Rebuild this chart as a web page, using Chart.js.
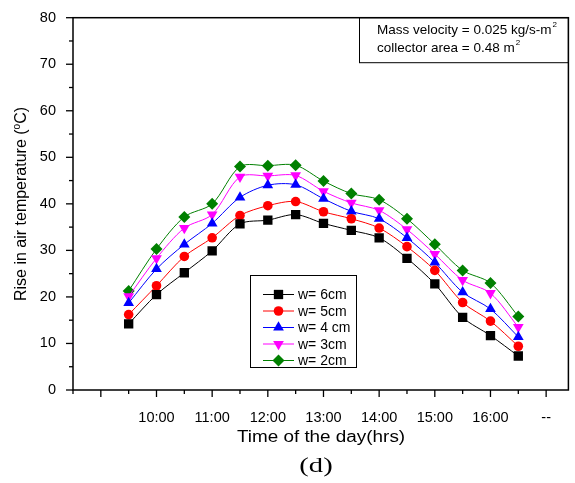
<!DOCTYPE html>
<html>
<head>
<meta charset="utf-8">
<script src="https://cdn.jsdelivr.net/npm/chart.js@4.4.0/dist/chart.umd.min.js"></script>
<style>
  html, body { margin: 0; padding: 0; background: #fff; }
  #wrap { width: 575px; height: 483px; }
</style>
</head>
<body>
<div id="wrap"><canvas id="grafico" width="575" height="483"></canvas></div>
<script>
// Datos (hora del día, subida de temperatura en °C)
const horas = [9.5, 10, 10.5, 11, 11.5, 12, 12.5, 13, 13.5, 14, 14.5, 15, 15.5, 16, 16.5];
const w6cm = [14.2, 20.5, 25.2, 29.9, 35.7, 36.5, 37.7, 35.8, 34.3, 32.7, 28.3, 22.8, 15.6, 11.7, 7.3];
const w5cm = [16.2, 22.4, 28.7, 32.7, 37.5, 39.6, 40.5, 38.3, 36.8, 34.8, 30.8, 25.7, 18.8, 14.8, 9.4];
const w4cm = [18.7, 26.0, 31.3, 35.8, 41.4, 44.0, 44.1, 41.1, 38.4, 36.8, 32.7, 27.4, 21.0, 17.4, 11.4];
const w3cm = [20.1, 28.3, 34.8, 37.7, 45.8, 46.0, 46.1, 42.7, 40.2, 38.6, 34.5, 29.2, 23.6, 20.8, 13.5];
const w2cm = [21.3, 30.3, 37.2, 40.0, 48.0, 48.2, 48.3, 44.9, 42.2, 40.9, 36.8, 31.3, 25.7, 23.0, 15.8];
const etiquetasX = { 10: '10:00', 11: '11:00', 12: '12:00', 13: '13:00', 14: '14:00', 15: '15:00', 16: '16:00', 17: '--' };
const etiquetasY = [0, 10, 20, 30, 40, 50, 60, 70, 80];

const series = [
  { label: 'w= 6cm', data: w6cm, color: '#000000', style: 'rect', radius: 6.6, rot: 0 },
  { label: 'w= 5cm', data: w5cm, color: '#ff0000', style: 'circle', radius: 4.8, rot: 0 },
  { label: 'w= 4 cm', data: w4cm, color: '#0000ff', style: 'triangle', radius: 6.2, rot: 0 },
  { label: 'w= 3cm', data: w3cm, color: '#ff00ff', style: 'triangle', radius: 6.2, rot: 180 },
  { label: 'w= 2cm', data: w2cm, color: '#008000', style: 'rectRot', radius: 6, rot: 0 }
];

const fuente = '"Liberation Sans", Arial, sans-serif';

// texto estirado en horizontal, como en la figura original
function texto(ctx, t, x, y, escala) {
  ctx.save();
  ctx.translate(x, y);
  ctx.scale(escala, 1);
  ctx.fillText(t, 0, 0);
  ctx.restore();
}

// Marco, marcas de ejes, leyenda y textos
const extras = {
  id: 'extras',
  afterDraw(chart) {
    const ctx = chart.ctx;
    const a = chart.chartArea;
    const sx = chart.scales.x, sy = chart.scales.y;
    ctx.save();
    ctx.strokeStyle = '#000';
    ctx.lineWidth = 1.5;
    ctx.strokeRect(a.left, a.top, a.right - a.left, a.bottom - a.top);

    // marcas del eje x
    ctx.lineWidth = 1.3;
    for (let h = 8.5; h <= 17.01; h += 0.5) {
      const px = sx.getPixelForValue(h);
      const len = Number.isInteger(h) ? 7 : 4;
      ctx.beginPath();
      ctx.moveTo(px, a.bottom);
      ctx.lineTo(px, a.bottom + len);
      ctx.stroke();
    }
    // marcas del eje y
    for (let v = 0; v <= 80; v += 5) {
      const py = sy.getPixelForValue(v);
      const len = v % 10 === 0 ? 7 : 4;
      ctx.beginPath();
      ctx.moveTo(a.left, py);
      ctx.lineTo(a.left - len, py);
      ctx.stroke();
    }

    // títulos
    ctx.fillStyle = '#000';
    ctx.font = '16px ' + fuente;
    ctx.textAlign = 'center';
    ctx.textBaseline = 'middle';
    texto(ctx, 'Time of the day(hrs)', 321, 438, 1.18);

    ctx.save();
    ctx.translate(22, 204);
    ctx.rotate(-Math.PI / 2);
    ctx.font = '16px ' + fuente;
    ctx.textAlign = 'left';
    const t1 = 'Rise in air temperature (';
    const w1 = ctx.measureText(t1).width;
    ctx.font = '10px ' + fuente;
    const wo = ctx.measureText('o').width;
    ctx.font = '16px ' + fuente;
    const w2 = ctx.measureText('C)').width;
    const x0 = -(w1 + wo + w2) / 2;
    ctx.fillText(t1, x0, 0);
    ctx.font = '10px ' + fuente;
    ctx.fillText('o', x0 + w1, -5);
    ctx.font = '16px ' + fuente;
    ctx.fillText('C)', x0 + w1 + wo, 0);
    ctx.restore();

    ctx.font = '22px "Liberation Serif", "Times New Roman", serif';
    ctx.textAlign = 'center';
    texto(ctx, '(d)', 316, 466, 1.3);

    // cuadro de condiciones
    ctx.lineWidth = 1;
    ctx.strokeRect(359.5, a.top, a.right - 359.5, 45);
    ctx.textAlign = 'left';
    ctx.font = '13.5px ' + fuente;
    ctx.fillText('Mass velocity = 0.025 kg/s-m', 377, 30);
    let w = ctx.measureText('Mass velocity = 0.025 kg/s-m').width;
    ctx.font = '8px ' + fuente;
    ctx.fillText('2', 377 + w + 1, 25);
    ctx.font = '13.5px ' + fuente;
    ctx.fillText('collector area = 0.48 m', 377, 48);
    w = ctx.measureText('collector area = 0.48 m').width;
    ctx.font = '8px ' + fuente;
    ctx.fillText('2', 377 + w + 1, 43);

    // leyenda
    ctx.lineWidth = 1;
    ctx.strokeRect(250.5, 275.5, 106, 92);
    chart.data.datasets.forEach((ds, i) => {
      const y = 294.5 + i * 16.5;
      ctx.strokeStyle = ds.borderColor;
      ctx.beginPath();
      ctx.moveTo(263, y);
      ctx.lineTo(294, y);
      ctx.stroke();
      ctx.fillStyle = ds.pointBackgroundColor;
      Chart.helpers.drawPoint(ctx, {
        pointStyle: ds.pointStyle, radius: ds.pointRadius, rotation: ds.pointRotation, borderWidth: 0
      }, 278.5, y);
      ctx.fillStyle = '#000';
      ctx.font = '14px ' + fuente;
      ctx.fillText(ds.label, 298, y + 1);
    });
    ctx.restore();
  }
};

const ctxG = document.getElementById('grafico').getContext('2d');
new Chart(ctxG, {
  type: 'line',
  data: {
    datasets: series.map(s => ({
      label: s.label,
      data: horas.map((h, i) => ({ x: h, y: s.data[i] })),
      borderColor: s.color,
      backgroundColor: s.color,
      pointBackgroundColor: s.color,
      pointBorderColor: s.color,
      pointBorderWidth: 0,
      pointStyle: s.style,
      pointRadius: s.radius,
      pointRotation: s.rot,
      borderWidth: 1,
      tension: 0.3,
      fill: false
    }))
  },
  options: {
    responsive: false,
    animation: false,
    layout: { padding: { top: 15, right: 6, left: 0, bottom: 0 } },
    plugins: { legend: { display: false }, tooltip: { enabled: false } },
    scales: {
      x: {
        type: 'linear',
        min: 8.5,
        max: 17.4,
        grid: { display: false },
        border: { display: false },
        afterBuildTicks(scale) {
          scale.ticks = Object.keys(etiquetasX).map(v => ({ value: Number(v) }));
        },
        afterFit(scale) { scale.height = 93; },
        ticks: {
          autoSkip: false,
          maxRotation: 0,
          padding: 11,
          color: '#000',
          font: { family: fuente, size: 14.5 },
          callback: v => etiquetasX[v] || ''
        }
      },
      y: {
        min: 0,
        max: 80,
        grid: { display: false },
        border: { display: false },
        afterBuildTicks(scale) {
          scale.ticks = etiquetasY.map(v => ({ value: v }));
        },
        afterFit(scale) { scale.width = 73; },
        ticks: {
          padding: 9,
          color: '#000',
          font: { family: fuente, size: 14.5 }
        }
      }
    }
  },
  plugins: [extras]
});
</script>
</body>
</html>
